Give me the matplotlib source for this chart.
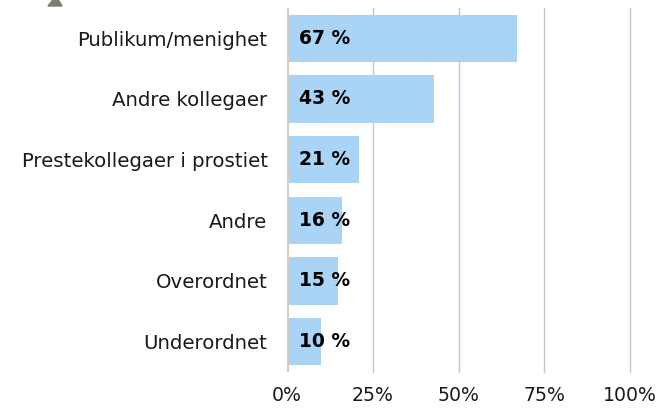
import matplotlib.pyplot as plt
import numpy as np
from matplotlib.patches import Polygon

categories = ["Publikum/menighet", "Andre kollegaer", "Prestekollegaer i prostiet",
              "Andre", "Overordnet", "Underordnet"]
values = [67, 43, 21, 16, 15, 10]
ticks = [0, 25, 50, 75, 100]

fig = plt.figure(figsize=(6.59, 4.08), dpi=100)
ax = fig.add_axes([287 / 659, 1 - 372 / 408, (630 - 287) / 659, (372 - 8) / 408])

y = np.arange(len(categories))[::-1]
ax.barh(y, values, height=0.78, color="#a9d4f5", zorder=2)
for yi, v in zip(y, values):
    ax.text(3.5, yi, f"{v} %", ha="left", va="center", fontsize=13.5,
            fontweight="heavy", color="black", zorder=3)

ax.set_xlim(0, 100)
ax.set_ylim(-0.5, len(categories) - 0.5)
ax.set_yticks(y)
ax.set_yticklabels(categories, fontsize=14.2, color="#1a1a1a")
ax.set_xticks(ticks)
ax.set_xticklabels([f"{t}%" for t in ticks], fontsize=13.6, color="#1a1a1a")
ax.tick_params(length=0)
ax.tick_params(axis="y", pad=14)
ax.tick_params(axis="x", pad=10)

for t in ticks[1:]:
    ax.axvline(t, color="#c6c6bc", linewidth=1.0, zorder=1, clip_on=False)
ax.axvline(0, color="#cfcfc6", linewidth=3, zorder=4)
for s in ax.spines.values():
    s.set_visible(False)

# small marker cut off at top-left
fig.patches.append(Polygon([[48 / 659, 1 - 6 / 408], [62 / 659, 1 - 6 / 408], [56 / 659, 1.01]],
                           closed=True, transform=fig.transFigure,
                           color="#7d7d6e", zorder=5))

fig.savefig("out.png", dpi=100)
